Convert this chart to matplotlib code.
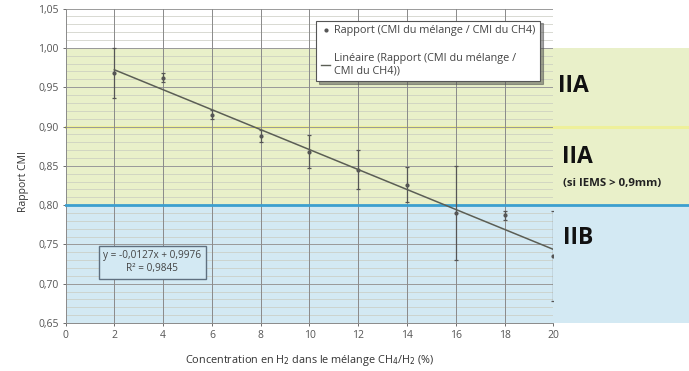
import matplotlib.pyplot as plt
import numpy as np
from matplotlib.lines import Line2D
from matplotlib.ticker import FuncFormatter

plt.rcParams['font.family'] = ['Open Sans', 'DejaVu Sans']

# concentration en H2 (%) et rapport CMI mesuré
h2_pct = [2, 4, 6, 8, 10, 12, 14, 16, 18, 20]
ratio = [0.968, 0.962, 0.915, 0.888, 0.868, 0.845, 0.826, 0.790, 0.787, 0.735]
ratio_err = [0.032, 0.006, 0.006, 0.008, 0.021, 0.025, 0.022, 0.060, 0.006, 0.057]

# régression linéaire affichée
slope = -0.0127
intercept = 0.9976
r2 = 0.9845

x_ticks = list(range(0, 21, 2))
y_ticks = [0.65, 0.70, 0.75, 0.80, 0.85, 0.90, 0.95, 1.00, 1.05]

YELLOW = "#e9f0c9"
BLUE = "#d3e9f3"

fig = plt.figure(figsize=(6.89, 3.71), dpi=100)
ax = fig.add_axes([0.0951, 0.1294, 0.7082, 0.8474])
ax.set_xlim(0, 20)
ax.set_ylim(0.65, 1.05)

# bandes de groupe, prolongées jusqu'au bord droit
ext = (689 - 65.5) / 488.0
ax.axhspan(0.80, 1.00, xmin=0, xmax=ext, color=YELLOW, zorder=0, clip_on=False, lw=0)
ax.axhspan(0.65, 0.80, xmin=0, xmax=ext, color=BLUE, zorder=0, clip_on=False, lw=0)
ax.axhline(0.90, xmin=0, xmax=ext, color="#eef09a", lw=2.2, zorder=1, clip_on=False)
ax.axhline(0.80, xmin=0, xmax=ext, color="#3c9fcf", lw=2.0, zorder=4, clip_on=False)

# grille
for yv in np.arange(0.66, 1.05, 0.01):
    ax.axhline(yv, color="#c9cbc0", lw=0.5, zorder=1)
for yv in y_ticks:
    ax.axhline(yv, color="#9a9a9a", lw=0.7, zorder=2)
for xv in x_ticks[1:]:
    ax.axvline(xv, color="#8a8a8a", lw=0.7, zorder=2)

ax.set_xticks(x_ticks)
ax.set_yticks(y_ticks)
ax.yaxis.set_major_formatter(FuncFormatter(lambda v, _: f"{v:.2f}".replace(".", ",")))
ax.tick_params(labelsize=7.5, colors="#555555", length=2, width=0.6, pad=3)
for side in ["top", "right"]:
    ax.spines[side].set_visible(False)
for side in ["left", "bottom"]:
    ax.spines[side].set_color("#8a8a8a")
    ax.spines[side].set_linewidth(0.7)

# mesures + barres d'erreur
ax.errorbar(h2_pct, ratio, yerr=ratio_err, fmt="o", ms=2, color="#555555",
            ecolor="#555555", elinewidth=0.9, capsize=1.5, capthick=0.9, zorder=5)

# droite de tendance
xf = np.array([h2_pct[0], h2_pct[-1]])
ax.plot(xf, slope * xf + intercept, color="#5b5e55", lw=1.1, zorder=6)

ax.set_xlabel("Concentration en H$_2$ dans le mélange CH$_4$/H$_2$ (%)",
              fontsize=7.8, color="#333333")
ax.set_ylabel("Rapport CMI", fontsize=7.5, color="#333333")
ax.yaxis.set_label_coords(-0.074, 0.45)
ax.xaxis.set_label_coords(0.5, -0.095)

# équation
eq = f"y = {slope:.4f}x + {intercept:.4f}\nR² = {r2:.4f}".replace(".", ",")
ax.text(3.55, 0.7276, eq, fontsize=7.2, ha="center", va="center", color="#444444",
        linespacing=1.25, zorder=7,
        bbox=dict(boxstyle="square,pad=0.45", fc=BLUE, ec="#5f7080", lw=1.0))

# légende
handles = [Line2D([], [], marker="o", ms=2, ls="none", color="#555555"),
           Line2D([], [], color="#5b5e55", lw=1.0)]
labels = ["Rapport (CMI du mélange / CMI du CH4)",
          "Linéaire (Rapport (CMI du mélange /\nCMI du CH4))"]
leg = ax.legend(handles, labels, loc="upper left", bbox_to_anchor=(0.513, 0.962),
                fontsize=7.8, frameon=True, fancybox=False, shadow=True,
                handlelength=0.9, handletextpad=0.3, labelspacing=1.5,
                borderpad=0.45, borderaxespad=0)
leg.get_frame().set_edgecolor("#555555")
leg.get_frame().set_linewidth(0.8)
leg.set_zorder(10)
for t in leg.get_texts():
    t.set_color("#444444")

# groupes
fig.text(558 / 689, 1 - 86 / 371, "IIA", fontsize=16.5, fontweight="bold", va="center", color="#111111")
fig.text(562 / 689, 1 - 157 / 371, "IIA", fontsize=16.5, fontweight="bold", va="center", color="#111111")
fig.text(563 / 689, 1 - 183 / 371, "(si IEMS > 0,9mm)", fontsize=8.2, fontweight="bold",
         va="center", color="#222222")
fig.text(563 / 689, 1 - 238 / 371, "IIB", fontsize=16.5, fontweight="bold", va="center", color="#111111")

fig.savefig("out.png", dpi=100)
